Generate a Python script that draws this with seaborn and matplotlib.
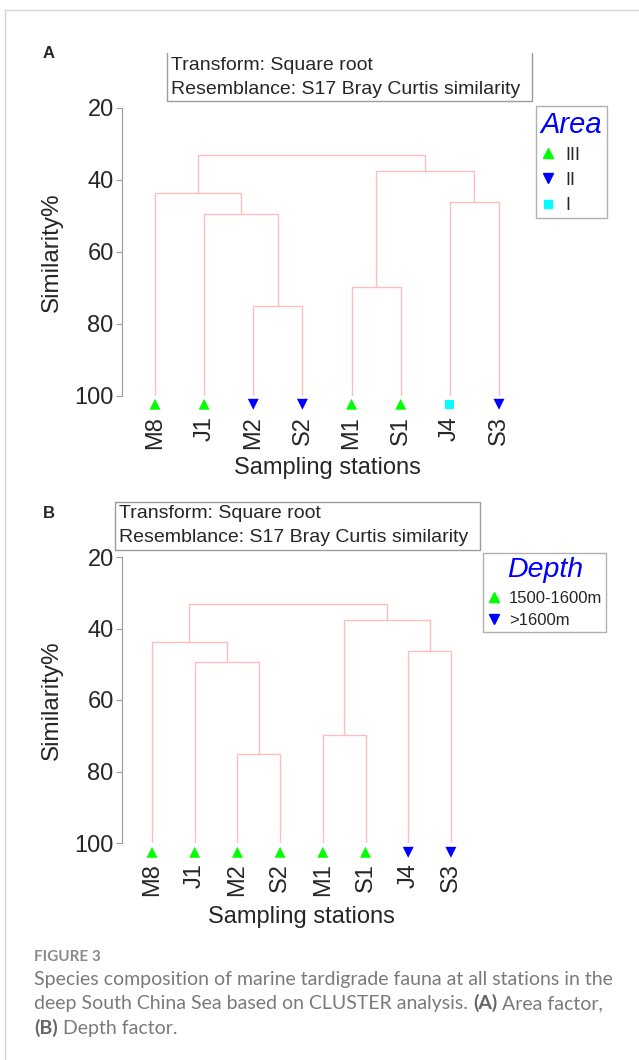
import seaborn as sns
import pandas as pd
import matplotlib.pyplot as plt
from matplotlib.lines import Line2D
from matplotlib.text import Annotation

sns.set_style('white')
plt.rcParams['font.family'] = ['Liberation Sans', 'DejaVu Sans']

# leaves in dendrogram order
stations = ["M8", "J1", "M2", "S2", "M1", "S1", "J4", "S3"]
area = ["III", "III", "II", "II", "III", "III", "I", "II"]
depth = ["1500-1600m"] * 6 + [">1600m"] * 2

# cluster merges (left, right, similarity %)
merge_left = ["M2", "M1", "J1", "J4", "M8", "M1+S1", "M8+J1+M2+S2"]
merge_right = ["S2", "S1", "M2+S2", "S3", "J1+M2+S2", "J4+S3", "M1+S1+J4+S3"]
merge_sim = [75.0, 69.7, 49.5, 46.2, 43.7, 37.6, 33.1]

y_ticks = [20, 40, 60, 80, 100]

area_colors = {"III": "#00ff00", "II": "#0000ff", "I": "#00ffff"}
area_markers = {"III": "^", "II": "v", "I": "s"}
area_sizes = {"III": 62, "II": 62, "I": 45}
depth_colors = {"1500-1600m": "#00ff00", ">1600m": "#0000ff"}
depth_markers = {"1500-1600m": "^", ">1600m": "v"}
depth_sizes = {"1500-1600m": 62, ">1600m": 62}

LINK = "#ffbdbd"
AXC = "#9a9a9a"
BOXC = "#9c9c9c"
W, H = 639, 1060


def link_table():
    pos = {s: float(i) for i, s in enumerate(stations)}
    hgt = {s: 100.0 for s in stations}
    rows = []
    for k, (a, b, h) in enumerate(zip(merge_left, merge_right, merge_sim)):
        for x, y in [(pos[a], hgt[a]), (pos[a], h), (pos[b], h), (pos[b], hgt[b])]:
            rows.append({"link": k, "x": x, "y": y})
        name = a + "+" + b
        pos[name] = (pos[a] + pos[b]) / 2
        hgt[name] = h
    return pd.DataFrame(rows)


def px_axes(fig, left, top, right, bottom):
    return fig.add_axes([left / W, 1 - bottom / H, (right - left) / W, (bottom - top) / H])


def panel(fig, ax, factor, colors, markers, sizes, leaf0, step, mark_y):
    links = link_table()
    sns.lineplot(data=links, x="x", y="y", units="link", estimator=None, sort=False,
                 color=LINK, lw=1.0, ax=ax, legend=False)

    pts = pd.DataFrame({"x": range(len(stations)), "y": mark_y, "grp": factor})
    sns.scatterplot(data=pts, x="x", y="y", hue="grp", style="grp", size="grp", palette=colors,
                    markers=markers, sizes=sizes, edgecolor='none', ax=ax, legend=False,
                    clip_on=False)

    ax.set_ylim(100, 20)
    ax.set_xlim((122 - leaf0) / step, 7.5)
    ax.set_yticks(y_ticks)
    ax.set_xticks(range(len(stations)))
    ax.set_xticklabels(stations, rotation=90, fontsize=17)
    ax.tick_params(axis='x', length=0, pad=14.5)
    ax.tick_params(axis='y', length=4, width=0.8, color=AXC, labelsize=17, pad=2, left=True)
    for sp in ["top", "right", "bottom"]:
        ax.spines[sp].set_visible(False)
    ax.spines["left"].set_color(AXC)
    ax.spines["left"].set_linewidth(0.8)
    ax.set_xlabel("Sampling stations", fontsize=17)
    ax.set_ylabel("Similarity%", fontsize=17.5)


def legend(fig, colors, markers, msizes, title, left, top, title_size, lab_size,
           spacing, hlen, hpad, align):
    handles = [Line2D([], [], ls='none', marker=markers[k], color=colors[k], markersize=msizes[k])
               for k in colors]
    leg = fig.legend(handles, list(colors), title=title, loc='upper left',
                     bbox_to_anchor=(left / W, 1 - top / H),
                     frameon=True, fancybox=False, fontsize=lab_size,
                     title_fontproperties={'size': title_size, 'style': 'italic'},
                     handlelength=hlen, handletextpad=hpad, labelspacing=spacing,
                     borderpad=0.25, borderaxespad=0, alignment=align)
    leg.get_title().set_color("#0000ff")
    leg.get_frame().set_edgecolor(BOXC)
    leg.get_frame().set_linewidth(1.0)
    return leg


def info_box(frame, left, top, right, bottom, open_top=False):
    xs = [left, left, right, right] if open_top else [left, left, right, right, left]
    ys = [top, bottom, bottom, top] if open_top else [top, bottom, bottom, top, top]
    frame.plot(xs, ys, color=BOXC, lw=1.0)
    frame.text(left + 4, top + 12, "Transform: Square root", fontsize=14, va='center')
    frame.text(left + 4, top + 36, "Resemblance: S17 Bray Curtis similarity", fontsize=14, va='center')


fig = plt.figure(figsize=(W / 100, H / 100), dpi=100)

# card frame and overlay in pixel coordinates
frame = fig.add_axes([0, 0, 1, 1], zorder=-5)
frame.set_axis_off()
frame.set_xlim(0, W)
frame.set_ylim(H, 0)
frame.plot([5, 5, W + 5], [H + 5, 10, 10], color="#d4d4d4", lw=1.0)

# panel A
axA = px_axes(fig, 122, 108, 155 + 7.5 * 49.14, 396)
panel(fig, axA, area, area_colors, area_markers, area_sizes, 155, 49.14, 102.3)
axA.xaxis.set_label_coords((327 - 122) / (7.5 * 49.14 + 33), -(468 - 396) / 288)
axA.xaxis.label.set_va('center')
axA.yaxis.set_label_coords(-(122 - 52) / (7.5 * 49.14 + 33), 0.5)
axA.yaxis.label.set_va('center')
legend(fig, area_colors, area_markers, {"III": 7.5, "II": 7.5, "I": 5.5}, "Area",
       536, 106, 21, 13, 0.45, 0.8, 0.55, 'left')
info_box(frame, 167, 53, 532, 101, open_top=True)
fig.text(43 / W, 1 - 54 / H, "A", fontsize=12, fontweight='bold', ha='left', va='center')

# panel B
axB = px_axes(fig, 122, 557, 152 + 7.5 * 42.7, 843)
panel(fig, axB, depth, depth_colors, depth_markers, depth_sizes, 152, 42.7, 102.6)
axB.xaxis.set_label_coords((301 - 122) / (7.5 * 42.7 + 30), -(917 - 843) / 286)
axB.xaxis.label.set_va('center')
axB.yaxis.set_label_coords(-(122 - 52) / (7.5 * 42.7 + 30), 0.5)
axB.yaxis.label.set_va('center')
legend(fig, depth_colors, depth_markers, {"1500-1600m": 7.5, ">1600m": 7.5}, "Depth",
       483, 553, 20.5, 12, 0.45, 0.85, 0.45, 'center')
info_box(frame, 115, 502, 480, 550)
fig.text(43 / W, 1 - 513 / H, "B", fontsize=12, fontweight='bold', ha='left', va='center')

# caption
cap_font = ['Lato', 'DejaVu Sans']
gray = "#7a7a7a"
dark = "#666666"
fig.text(34 / W, 1 - 957 / H, "FIGURE 3", family=cap_font, fontsize=11, fontweight='bold',
         color="#8a8a8a", va='center')
fig.text(34 / W, 1 - 980 / H, "Species composition of marine tardigrade fauna at all stations in the",
         family=cap_font, fontsize=14, color=gray, va='center')
t1 = fig.text(34 / W, 1 - 1004 / H, "deep South China Sea based on CLUSTER analysis. ",
              family=cap_font, fontsize=14, color=gray, va='center')
a2 = fig.add_artist(Annotation("(A)", xy=(1, 0), xycoords=t1, va='bottom',
                               family=cap_font, fontsize=14, fontweight='bold', color=dark))
fig.add_artist(Annotation(" Area factor,", xy=(1, 0), xycoords=a2, va='bottom',
                          family=cap_font, fontsize=14, color=gray))
b1 = fig.text(34 / W, 1 - 1028 / H, "(B)", family=cap_font, fontsize=14, fontweight='bold',
              color=dark, va='center')
fig.add_artist(Annotation(" Depth factor.", xy=(1, 0), xycoords=b1, va='bottom',
                          family=cap_font, fontsize=14, color=gray))

fig.savefig("out.png", dpi=100)
